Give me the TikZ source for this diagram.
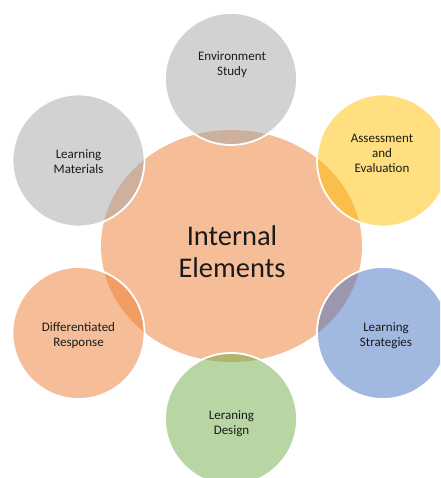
\documentclass[tikz,border=0pt]{standalone}
\usepackage{fontspec}
\setmainfont{Carlito}
\usetikzlibrary{shapes.geometric}
\definecolor{corange}{HTML}{ED7D31}
\definecolor{cgrey}{HTML}{A5A5A5}
\definecolor{cyellow}{HTML}{FFC000}
\definecolor{cblue}{HTML}{4472C4}
\definecolor{cgreen}{HTML}{70AD47}
\definecolor{ctext}{HTML}{1A1A1A}
\begin{document}
\begin{tikzpicture}[x=1pt,y=1pt,
  hub/.style={ellipse, minimum width=261pt, minimum height=232pt, inner sep=0pt, fill=corange, fill opacity=0.5},
  sat/.style={circle, minimum size=132pt, inner sep=0pt, fill=#1, fill opacity=0.5, draw=white, draw opacity=1, line width=1.8pt},
  lbl/.style={align=center, inner sep=0pt, text=ctext, font=\fontsize{13}{15}\selectfont},
  biglbl/.style={align=center, inner sep=0pt, text=ctext, font=\fontsize{28.5}{32}\selectfont}]
\useasboundingbox (0,0) rectangle (440,478);
\clip (0,0) rectangle (440,478);
\node[hub] (hub) at (231.5,232) {};
\node[sat=cgrey] (env) at (231,399) {};
\node[sat=cgrey] (mat) at (78.5,317.5) {};
\node[sat=cyellow] (ass) at (383,317.5) {};
\node[sat=corange] (diff) at (78.5,145) {};
\node[sat=cblue] (strat) at (383,145) {};
\node[sat=cgreen] (des) at (231,59) {};
\node[biglbl] (hubtxt) at (232,226.5) {Internal\\Elements};
\node[lbl] (envtxt) at (232,413) {Environment\\Study};
\node[lbl] (mattxt) at (78.5,316) {Learning\\Materials};
\node[lbl] (asstxt) at (382,324.5) {Assessment\\and\\Evaluation};
\node[lbl] (difftxt) at (78.5,142) {Differentiated\\Response};
\node[lbl] (strattxt) at (386,142) {Learning\\Strategies};
\node[lbl] (destxt) at (231.5,54) {Leraning\\Design};
\end{tikzpicture}
\end{document}
